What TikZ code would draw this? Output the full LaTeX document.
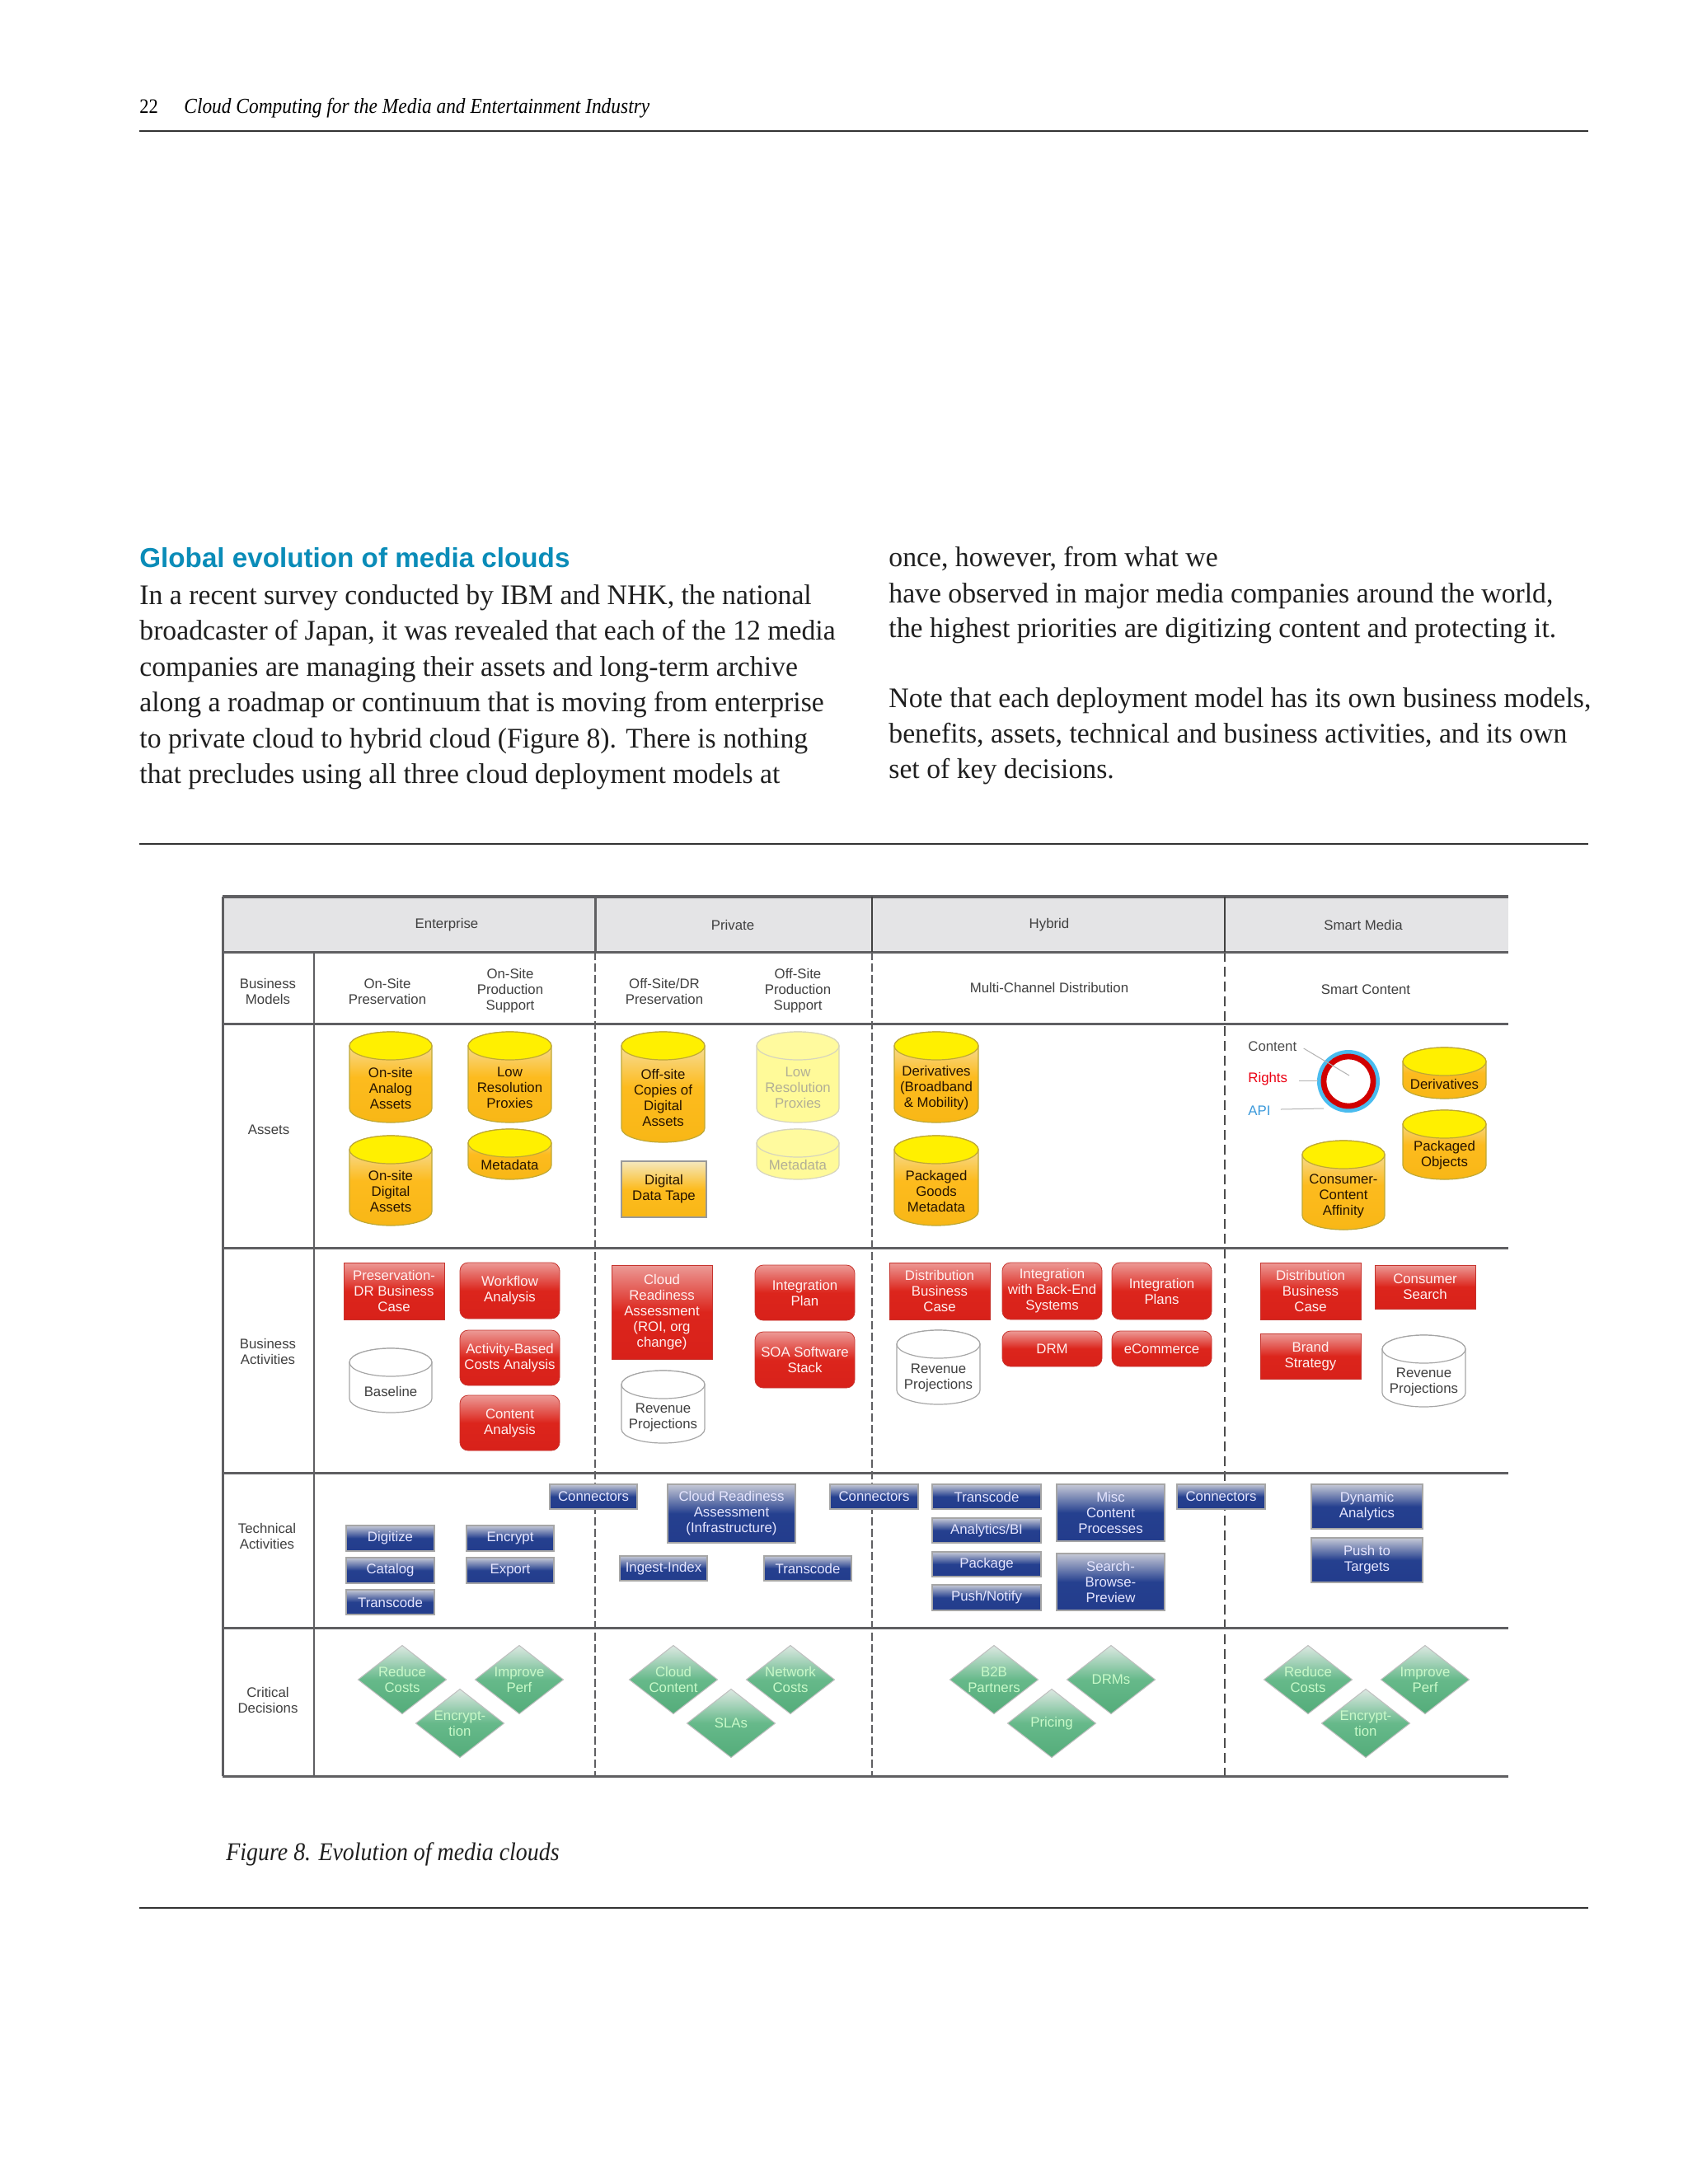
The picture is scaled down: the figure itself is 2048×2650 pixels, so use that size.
\documentclass[tikz,border=0pt]{standalone}
\usepackage{fontspec}
\setmainfont{Liberation Serif}
\setsansfont{Liberation Sans}
\newfontfamily\bodyf[FakeStretch=0.98]{Liberation Serif}
\newfontfamily\capf[FakeStretch=0.9]{Liberation Serif}
\definecolor{gridc}{HTML}{5F5F62}
\definecolor{headbg}{HTML}{E4E4E6}
\definecolor{headc}{HTML}{0A8CB8}
\definecolor{rulec}{HTML}{333333}
\definecolor{redT}{HTML}{EC9A96}\definecolor{redM}{HTML}{DC251C}\definecolor{redB}{HTML}{D8211A}
\definecolor{bluT}{HTML}{C6C9D6}\definecolor{bluM}{HTML}{25408F}\definecolor{bluB}{HTML}{233C8C}
\definecolor{grnT}{HTML}{DCE8E2}\definecolor{grnM}{HTML}{66B98A}\definecolor{grnB}{HTML}{54AC7A}
\definecolor{cylT}{HTML}{F4E8BE}\definecolor{cylM}{HTML}{FDBB1E}\definecolor{cylB}{HTML}{F8B716}
\tikzset{
  x=0.5pt,y=-0.5pt,
  lbl/.style={font=\sffamily\fontsize{8.4}{9.5}\selectfont,text=black!75,align=center,inner sep=0pt},
  gridl/.style={draw=gridc,line width=1.5pt},
  dashl/.style={draw=gridc,line width=1.2pt,dash pattern=on 5pt off 2pt},
  dashm/.style={draw=black!70,line width=0.8pt,dash pattern=on 6pt off 3pt},
  pagerule/.style={draw=rulec,line width=0.9pt},
  bodytxt/.style={anchor=base west,inner sep=0pt,font=\bodyf\fontsize{17.2}{20}\selectfont,text=black!88},
  redb/.style={draw=redB!80!gray,line width=0.4pt,top color=redT,bottom color=redB,middle color=redM,text=red!6!white},
  redsq/.style={redb},
  redrd/.style={redb,rounded corners=5pt},
  blueb/.style={draw=black!35!white,line width=0.6pt,top color=bluT,bottom color=bluB,middle color=bluM,text=blue!10!white},
  tapeb/.style={draw=black!40,line width=0.6pt,top color=cylT,bottom color=cylB,middle color=cylM,text=black!85!orange},
  dia/.style={draw=black!25!white,line width=0.5pt,top color=grnT,bottom color=grnB,middle color=grnM},
  diatxt/.style={lbl,text=green!20!white!95!gray},
  cylg/.style={draw=yellow!65!black!80!orange,line width=0.6pt,top color=cylT,bottom color=cylB,middle color=cylM},
  cyltop/.style={draw=yellow!65!black!80!orange,line width=0.6pt,fill=yellow!98!orange},
  cylgtxt/.style={lbl,text=black!85!orange},
  cyll/.style={draw=yellow!40!black!30!white,line width=0.6pt,fill=yellow!40!white},
  cylltop/.style={draw=yellow!40!black!30!white,line width=0.6pt,fill=yellow!38!white},
  cylltxt/.style={lbl,text=yellow!30!black!50!white},
  cylw/.style={draw=black!35,line width=0.6pt,fill=white},
  cylwtop/.style={draw=black!35,line width=0.6pt,fill=white},
  cylwtxt/.style={lbl,text=black!75},
  lead/.style={draw=black!30,line width=0.5pt},
}
% name, box style, x1, x2, y1, y2, text
\newcommand\bx[7]{\node[lbl,#2,minimum width={(#4-#3)*0.5},minimum height={(#6-#5)*0.5}] (#1) at ({(#3+#4)/2},{(#5+#6)/2}) {#7};}
% name, body, top, text style, x1, x2, y1, y2, text
\newcommand\cyl[9]{%
  \def\cname{#1}\def\cbody{#2}\def\ctop{#3}\def\ctxt{#4}%
  \cylrest{#5}{#6}{#7}{#8}{#9}}
\newcommand\cylrest[5]{%
  \pgfmathsetmacro\crx{(#2-#1)*0.25}%
  \pgfmathsetmacro\cxm{(#1+#2)/2}%
  \pgfmathsetmacro\cya{#3+17}%
  \pgfmathsetmacro\cyb{#4-17}%
  \pgfmathsetmacro\cyt{(#3+34+#4)/2-4}%
  \path[style=\cbody] (#1,\cya) -- (#1,\cyb) arc[start angle=180,end angle=360,x radius=\crx pt,y radius=8.5pt] -- (#2,\cya) arc[start angle=0,end angle=180,x radius=\crx pt,y radius=8.5pt] -- cycle;
  \path[style=\ctop] (\cxm,\cya) ellipse ({\crx pt} and 8.5pt);
  \node[style=\ctxt] (\cname) at (\cxm,\cyt) {#5};}
% name, cx, cy, text
\newcommand\dm[4]{%
  \path[dia] (#2,{#3-41.5}) -- ({#2+53.5},#3) -- (#2,{#3+41.5}) -- ({#2-53.5},#3) -- cycle;
  \node[diatxt] (#1) at (#2,#3) {#4};}
% name, x, baseline, text
\newcommand\bl[4]{\node[bodytxt] (#1) at (#2,#3) {#4};}
\begin{document}
\begin{tikzpicture}
\useasboundingbox (0,0) rectangle (2048,2650);
\fill[white] (0,0) rectangle (2048,2650);
% page furniture
\node[anchor=base west,inner sep=0pt,font=\capf\fontsize{12.5}{14}\selectfont] (pgnum) at (169,137) {22};
\node[anchor=base west,inner sep=0pt,font=\capf\itshape\fontsize{13}{14}\selectfont] (runhead) at (223,137) {Cloud Computing for the Media and Entertainment Industry};
\coordinate (r1a) at (169,159); \coordinate (r1b) at (1927,159);
\coordinate (r2a) at (169,1024); \coordinate (r2b) at (1927,1024);
\coordinate (r3a) at (169,2315); \coordinate (r3b) at (1927,2315);
\draw[pagerule] (r1a)--(r1b); \draw[pagerule] (r2a)--(r2b); \draw[pagerule] (r3a)--(r3b);
\node[anchor=base west,inner sep=0pt,font=\sffamily\bfseries\fontsize{16.6}{18}\selectfont,text=headc] (heading) at (169,688) {Global evolution of media clouds};
\bl{l1}{169}{733}{In a recent survey conducted by IBM and NHK, the national}
\bl{l2}{169}{776}{broadcaster of Japan, it was revealed that each of the 12 media}
\bl{l3}{169}{820}{companies are managing their assets and long-term archive}
\bl{l4}{169}{863}{along a roadmap or continuum that is moving from enterprise}
\bl{l5}{169}{907}{to private cloud to hybrid cloud (Figure 8). There is nothing}
\bl{l6}{169}{950}{that precludes using all three cloud deployment models at}
\bl{r1}{1078}{687}{once, however, from what we}
\bl{r2}{1078}{731}{have observed in major media companies around the world,}
\bl{r3}{1078}{773}{the highest priorities are digitizing content and protecting it.}
\bl{r4}{1078}{858}{Note that each deployment model has its own business models,}
\bl{r5}{1078}{901}{benefits, assets, technical and business activities, and its own}
\bl{r6}{1078}{944}{set of key decisions.}
\node[anchor=base west,inner sep=0pt,font=\capf\itshape\fontsize{15.5}{18}\selectfont,text=black!88] (caption) at (274,2257) {Figure 8. Evolution of media clouds};
% table
\fill[headbg] (270,1088) rectangle (1830,1155);
\draw[dashl] (722,1155)--(722,2155);
\draw[dashl] (1058,1155)--(1058,2155);
\draw[dashm] (1486,1155)--(1486,2155);
\draw[gridl,line width=1.8pt] (270,1088)--(1830,1088);
\foreach \yy in {1155,1242,1514,1787,1975,2155} \draw[gridl] (270,\yy)--(1830,\yy);
\draw[gridl] (270,1088)--(270,2155);
\draw[gridl,line width=1pt] (381,1155)--(381,2155);
\draw[gridl] (722,1088)--(722,1155);
\draw[gridl,line width=1pt,draw=black!75] (1058,1088)--(1058,1155);
\draw[gridl,line width=1pt,draw=black!75] (1486,1088)--(1486,1155);
% headers
\node[lbl] (hE) at (542,1122) {Enterprise};
\node[lbl] (hP) at (889,1122) {Private};
\node[lbl] (hH) at (1273,1122) {Hybrid};
\node[lbl] (hS) at (1654,1122) {Smart Media};
\node[lbl] (rBM) at (325,1203) {Business\\Models};
\node[lbl] (rA) at (326,1371) {Assets};
\node[lbl] (rBA) at (325,1640) {Business\\Activities};
\node[lbl] (rTA) at (324,1864) {Technical\\Activities};
\node[lbl] (rCD) at (325,2063) {Critical\\Decisions};
\node[lbl] (bm1) at (470,1203) {On-Site\\Preservation};
\node[lbl] (bm2) at (619,1202) {On-Site\\Production\\Support};
\node[lbl] (bm3) at (806,1203) {Off-Site/DR\\Preservation};
\node[lbl] (bm4) at (968,1202) {Off-Site\\Production\\Support};
\node[lbl] (bm5) at (1273,1198) {Multi-Channel Distribution};
\node[lbl] (bm6) at (1657,1201) {Smart Content};
% assets
\cyl{a1}{cylg}{cyltop}{cylgtxt}{424}{524}{1252}{1362}{On-site\\Analog\\Assets}
\cyl{a2}{cylg}{cyltop}{cylgtxt}{568}{669}{1252}{1362}{Low\\Resolution\\Proxies}
\cyl{a3}{cylg}{cyltop}{cylgtxt}{424}{524}{1378}{1487}{On-site\\Digital\\Assets}
\cyl{a4}{cylg}{cyltop}{cylgtxt}{568}{669}{1370}{1431}{Metadata}
\cyl{a5}{cylg}{cyltop}{cylgtxt}{754}{855}{1252}{1386}{Off-site\\Copies of\\Digital\\Assets}
\bx{a6}{tapeb}{754}{857}{1409}{1477}{Digital\\Data Tape}
\cyl{a7}{cyll}{cylltop}{cylltxt}{918}{1018}{1252}{1362}{Low\\Resolution\\Proxies}
\cyl{a8}{cyll}{cylltop}{cylltxt}{918}{1018}{1370}{1431}{Metadata}
\cyl{a9}{cylg}{cyltop}{cylgtxt}{1085}{1187}{1252}{1362}{Derivatives\\(Broadband\\\& Mobility)}
\cyl{a10}{cylg}{cyltop}{cylgtxt}{1085}{1187}{1378}{1487}{Packaged\\Goods\\Metadata}
\cyl{a11}{cylg}{cyltop}{cylgtxt}{1702}{1803}{1271}{1333}{Derivatives}
\cyl{a12}{cylg}{cyltop}{cylgtxt}{1702}{1803}{1347}{1431}{Packaged\\Objects}
\cyl{a13}{cylg}{cyltop}{cylgtxt}{1580}{1680}{1384}{1492}{Consumer-\\Content\\Affinity}
% ring
\node[circle,fill=cyan!70!white!95!blue,draw=none,minimum size=38pt,inner sep=0pt] (ringO) at (1636,1312) {};
\node[circle,fill=white,draw=red!82!black,line width=3.4pt,minimum size=30pt,inner sep=0pt] (ringI) at (ringO) {};
\node[lbl,anchor=west,text=black!70] (lC) at (1514,1270) {Content};
\node[lbl,anchor=west,text=red!70!purple] (lR) at (1514,1309) {Rights};
\node[lbl,anchor=west,text=cyan!70!blue!80] (lA) at (1514,1348) {API};
\coordinate (cEnd) at (1637,1305);
\coordinate (rEnd) at (1599,1311);
\coordinate (aEnd) at (1606,1345);
\draw[lead] ([xshift=4pt,yshift=-1pt]lC.east)--(cEnd);
\draw[lead] ([xshift=7pt,yshift=-1pt]lR.east)|-(rEnd);
\draw[lead] ([xshift=6pt,yshift=1pt]lA.east)--(aEnd);
% business activities
\bx{b1}{redsq}{417}{539}{1532}{1601}{Preservation-\\DR Business\\Case}
\bx{b2}{redrd}{558}{679}{1532}{1600}{Workflow\\Analysis}
\bx{b3}{redrd}{558}{679}{1614}{1681}{Activity-Based\\Costs Analysis}
\bx{b4}{redrd}{558}{679}{1693}{1760}{Content\\Analysis}
\cyl{b5}{cylw}{cylwtop}{cylwtxt}{424}{524}{1636}{1714}{Baseline}
\bx{b6}{redsq}{742}{864}{1535}{1649}{Cloud\\Readiness\\Assessment\\(ROI, org\\change)}
\bx{b7}{redrd}{916}{1037}{1535}{1602}{Integration\\Plan}
\bx{b8}{redrd}{916}{1037}{1616}{1684}{SOA Software\\Stack}
\cyl{b9}{cylw}{cylwtop}{cylwtxt}{754}{855}{1663}{1751}{Revenue\\Projections}
\bx{b10}{redsq}{1079}{1201}{1532}{1601}{Distribution\\Business\\Case}
\bx{b11}{redrd}{1216}{1337}{1532}{1601}{Integration\\with Back-End\\Systems}
\bx{b12}{redrd}{1349}{1470}{1532}{1601}{Integration\\Plans}
\cyl{b13}{cylw}{cylwtop}{cylwtxt}{1088}{1189}{1614}{1704}{Revenue\\Projections}
\bx{b14}{redrd}{1216}{1337}{1615}{1658}{DRM}
\bx{b15}{redrd}{1349}{1470}{1615}{1658}{eCommerce}
\bx{b16}{redsq}{1529}{1651}{1532}{1601}{Distribution\\Business\\Case}
\bx{b17}{redsq}{1668}{1790}{1535}{1588}{Consumer\\Search}
\bx{b18}{redsq}{1529}{1651}{1618}{1673}{Brand\\Strategy}
\cyl{b19}{cylw}{cylwtop}{cylwtxt}{1677}{1778}{1620}{1707}{Revenue\\Projections}
% technical activities
\bx{t1}{blueb}{667}{773}{1801}{1831}{Connectors}
\bx{t2}{blueb}{810}{965}{1801}{1872}{Cloud Readiness\\Assessment\\(Infrastructure)}
\bx{t3}{blueb}{1007}{1114}{1801}{1831}{Connectors}
\bx{t4}{blueb}{420}{527}{1851}{1882}{Digitize}
\bx{t5}{blueb}{566}{672}{1851}{1882}{Encrypt}
\bx{t6}{blueb}{420}{527}{1890}{1921}{Catalog}
\bx{t7}{blueb}{566}{672}{1890}{1921}{Export}
\bx{t8}{blueb}{420}{527}{1929}{1959}{Transcode}
\bx{t9}{blueb}{752}{858}{1888}{1918}{Ingest-Index}
\bx{t10}{blueb}{927}{1033}{1888}{1918}{Transcode}
\bx{t11}{blueb}{1131}{1263}{1801}{1831}{Transcode}
\bx{t12}{blueb}{1131}{1263}{1842}{1872}{Analytics/BI}
\bx{t13}{blueb}{1131}{1263}{1883}{1913}{Package}
\bx{t14}{blueb}{1131}{1263}{1923}{1954}{Push/Notify}
\bx{t15}{blueb}{1282}{1413}{1801}{1870}{Misc\\Content\\Processes}
\bx{t16}{blueb}{1282}{1413}{1885}{1954}{Search-\\Browse-\\Preview}
\bx{t17}{blueb}{1428}{1535}{1801}{1831}{Connectors}
\bx{t18}{blueb}{1591}{1726}{1801}{1855}{Dynamic\\Analytics}
\bx{t19}{blueb}{1591}{1726}{1866}{1920}{Push to\\Targets}
% decisions
\dm{d1}{488}{2038}{Reduce\\Costs}
\dm{d2}{630}{2038}{Improve\\Perf}
\dm{d3}{558}{2091}{Encrypt-\\tion}
\dm{d4}{817}{2038}{Cloud\\Content}
\dm{d5}{959}{2038}{Network\\Costs}
\dm{d6}{887}{2091}{SLAs}
\dm{d7}{1206}{2038}{B2B\\Partners}
\dm{d8}{1348}{2038}{DRMs}
\dm{d9}{1276}{2091}{Pricing}
\dm{d10}{1587}{2038}{Reduce\\Costs}
\dm{d11}{1729}{2038}{Improve\\Perf}
\dm{d12}{1657}{2091}{Encrypt-\\tion}
\end{tikzpicture}
\end{document}
